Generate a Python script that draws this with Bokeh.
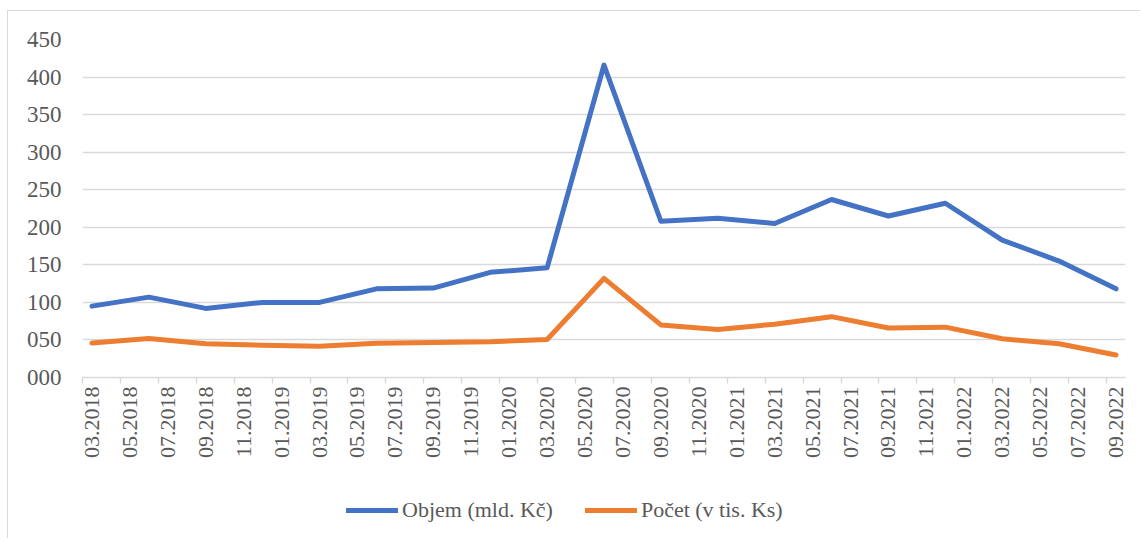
from bokeh.plotting import figure
from bokeh.layouts import column
from bokeh.models import ColumnDataSource, Range1d, FixedTicker, Legend, LegendItem
from bokeh.embed import file_html
from bokeh.resources import INLINE
import math

# ---- data ----
periods = ["03.2018", "06.2018", "09.2018", "12.2018", "03.2019", "06.2019", "09.2019",
           "12.2019", "03.2020", "06.2020", "09.2020", "12.2020", "03.2021", "06.2021",
           "09.2021", "12.2021", "03.2022", "06.2022", "09.2022"]
objem = [95, 107, 92, 100, 100, 118, 119, 140, 146, 416, 208, 212, 205, 237, 215, 232, 183, 155, 118]
pocet = [46, 52, 45, 43, 41.5, 45.5, 46.5, 47.5, 50.5, 132, 70, 64, 71, 81, 66, 67, 51.5, 45, 30]

x_tick_labels = ["03.2018", "05.2018", "07.2018", "09.2018", "11.2018", "01.2019", "03.2019",
                 "05.2019", "07.2019", "09.2019", "11.2019", "01.2020", "03.2020", "05.2020",
                 "07.2020", "09.2020", "11.2020", "01.2021", "03.2021", "05.2021", "07.2021",
                 "09.2021", "11.2021", "01.2022", "03.2022", "05.2022", "07.2022", "09.2022"]
y_ticks = [0, 50, 100, 150, 200, 250, 300, 350, 400, 450]
y_tick_labels = ["000", "050", "100", "150", "200", "250", "300", "350", "400", "450"]

series_names = ["Objem (mld. Kč)", "Počet (v tis. Ks)"]
colors = ["#4472C4", "#ED7D31"]


def month_index(s):
    m, y = s.split(".")
    return (int(y) - 2018) * 12 + int(m) - 3


x = [month_index(s) for s in periods]
tick_pos = [month_index(s) for s in x_tick_labels]

FONT = "Liberation Serif"
TXT = "#595959"
GRID = "#d9d9d9"
LW = 5

# ---- main chart ----
p = figure(width=1132, height=458, output_backend="svg", toolbar_location=None,
           x_range=Range1d(-0.5, tick_pos[-1] + 0.5), y_range=Range1d(0, 450),
           min_border_left=74, min_border_right=15, min_border_top=28, min_border_bottom=92)
p.outline_line_color = None
p.background_fill_color = "white"
p.border_fill_color = "white"

src = ColumnDataSource(dict(x=x, objem=objem, pocet=pocet))
p.line("x", "objem", source=src, line_color=colors[0], line_width=LW,
       line_cap="round", line_join="round")
p.line("x", "pocet", source=src, line_color=colors[1], line_width=LW,
       line_cap="round", line_join="round")

# x axis
p.xaxis.ticker = FixedTicker(ticks=tick_pos, minor_ticks=[t - 0.5 for t in tick_pos])
p.xaxis.major_label_overrides = {t: l for t, l in zip(tick_pos, x_tick_labels)}
p.xaxis.major_label_orientation = math.pi / 2
p.xaxis.axis_line_color = GRID
p.xaxis.axis_line_width = 1.5
p.xaxis.major_tick_line_color = None
p.xaxis.major_tick_out = 6
p.xaxis.major_tick_in = 0
p.xaxis.minor_tick_line_color = GRID
p.xaxis.minor_tick_line_width = 1.5
p.xaxis.minor_tick_out = 6
p.xaxis.minor_tick_in = 0
p.xaxis.major_label_standoff = 3
p.xaxis.major_label_text_font = FONT
p.xaxis.major_label_text_font_size = "22px"
p.xaxis.major_label_text_color = TXT
p.xgrid.visible = False

# y axis
p.yaxis.ticker = FixedTicker(ticks=y_ticks, minor_ticks=[])
p.yaxis.major_label_overrides = {t: l for t, l in zip(y_ticks, y_tick_labels)}
p.yaxis.axis_line_color = None
p.yaxis.major_tick_line_color = None
p.yaxis.minor_tick_line_color = None
p.yaxis.major_tick_out = 0
p.yaxis.major_label_standoff = 21
p.yaxis.major_label_text_font = FONT
p.yaxis.major_label_text_font_size = "23px"
p.yaxis.major_label_text_color = TXT
p.ygrid.grid_line_color = GRID
p.ygrid.grid_line_width = 1.5

# ---- legend strip ----
lg = figure(width=1132, height=69, output_backend="svg", toolbar_location=None,
            x_range=Range1d(0, 1), y_range=Range1d(0, 1), min_border=0)
lg.outline_line_color = None
lg.axis.visible = False
lg.grid.visible = False
# legend-only renderers, their data lies outside the visible range
lr1 = lg.line(x=[5, 6], y=[5, 6], line_color=colors[0], line_width=LW, line_cap="round")
lr2 = lg.line(x=[5, 6], y=[5, 6], line_color=colors[1], line_width=LW, line_cap="round")
legend = Legend(items=[LegendItem(label=series_names[0], renderers=[lr1]),
                       LegendItem(label=series_names[1], renderers=[lr2])],
                orientation="horizontal", location=(264, 15),
                glyph_width=52, glyph_height=26, label_standoff=4, spacing=32,
                padding=0, margin=0,
                label_text_font=FONT, label_text_font_size="22px", label_text_color=TXT,
                border_line_color=None, background_fill_alpha=0)
lg.add_layout(legend, "center")

layout = column(p, lg, spacing=0)
layout.styles = {"margin-left": "7px", "margin-top": "10px",
                 "border-left": "1px solid #d9d9d9", "border-top": "1px solid #d9d9d9"}

open("out.html", "w").write(file_html(layout, INLINE))
